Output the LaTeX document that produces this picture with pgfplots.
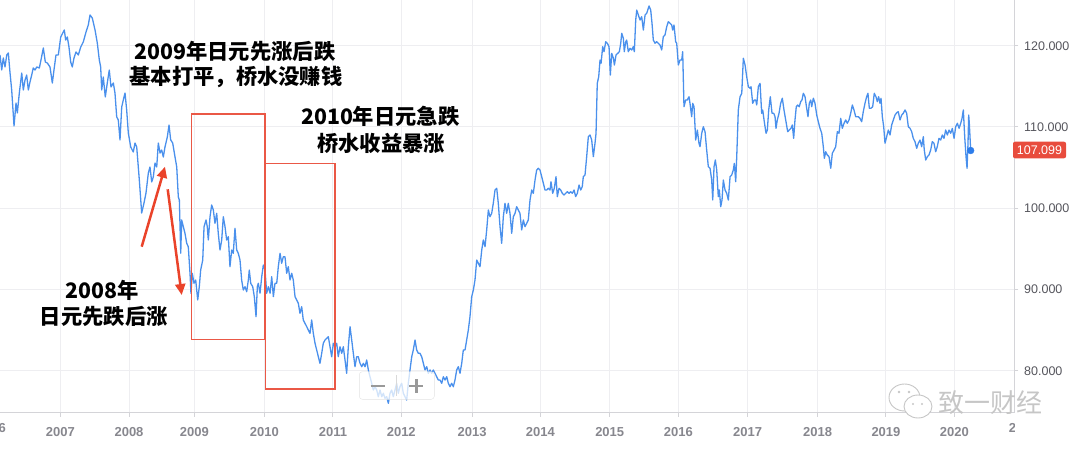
\documentclass[border=0pt]{standalone}
\usepackage{pgfplots}
\usepackage{pgfplotstable}
\pgfplotsset{compat=1.18}
\usepackage{fontspec}
\setmainfont{Liberation Sans}
\newfontfamily\cjk{Noto Sans CJK SC}
\usetikzlibrary{arrows.meta}
\definecolor{lineblue}{RGB}{74,144,236}
\definecolor{dotblue}{RGB}{45,125,235}
\definecolor{boxred}{RGB}{234,88,70}
\definecolor{arrowred}{RGB}{234,67,42}
\definecolor{pricered}{RGB}{232,76,61}
\definecolor{gridc}{RGB}{238,238,241}
\definecolor{axisc}{RGB}{212,212,216}
\definecolor{ylab}{RGB}{85,85,92}
\definecolor{xlab}{RGB}{135,135,142}

\pgfplotstableread{
X V
2006.123 118.86
2006.148 117.01
2006.171 118.49
2006.196 117.38
2006.221 118.86
2006.244 119.10
2006.269 116.64
2006.293 114.55
2006.327 110.12
2006.356 112.95
2006.375 111.72
2006.404 114.18
2006.439 116.64
2006.462 114.55
2006.487 115.78
2006.511 116.39
2006.535 114.55
2006.559 115.53
2006.584 116.39
2006.607 117.26
2006.632 117.01
2006.657 117.38
2006.695 117.26
2006.719 118.24
2006.753 119.72
2006.782 117.99
2006.811 117.87
2006.850 117.38
2006.884 115.41
2006.908 117.01
2006.937 118.86
2006.971 118.86
2007.006 121.07
2007.035 121.56
2007.058 121.93
2007.078 120.70
2007.102 121.07
2007.126 119.84
2007.151 117.99
2007.174 117.38
2007.199 118.49
2007.228 119.23
2007.262 118.86
2007.297 119.84
2007.334 120.46
2007.374 121.69
2007.407 122.55
2007.432 123.78
2007.465 123.41
2007.505 121.93
2007.538 120.33
2007.567 118.24
2007.587 117.38
2007.602 114.55
2007.625 116.15
2007.654 113.69
2007.683 115.41
2007.712 117.01
2007.737 114.92
2007.771 115.41
2007.795 114.18
2007.820 111.23
2007.843 110.86
2007.868 108.41
2007.893 112.46
2007.916 113.32
2007.941 114.18
2007.965 112.09
2007.989 109.25
2008.024 107.53
2008.061 106.92
2008.086 108.02
2008.111 107.53
2008.149 103.47
2008.183 99.41
2008.217 100.64
2008.246 101.87
2008.280 104.33
2008.304 105.07
2008.329 103.23
2008.352 103.84
2008.377 105.56
2008.402 105.07
2008.425 108.02
2008.450 106.79
2008.474 107.16
2008.498 106.30
2008.522 107.53
2008.556 108.76
2008.581 110.24
2008.605 108.41
2008.634 108.02
2008.668 106.30
2008.693 105.07
2008.716 101.38
2008.731 101.01
2008.751 94.45
2008.765 98.55
2008.789 97.72
2008.813 96.91
2008.838 95.68
2008.861 95.26
2008.886 91.99
2008.900 89.52
2008.919 91.99
2008.944 90.76
2008.969 91.16
2008.998 88.70
2009.021 90.34
2009.041 92.39
2009.071 93.62
2009.090 97.72
2009.119 98.55
2009.137 97.72
2009.152 96.09
2009.177 98.95
2009.201 100.39
2009.225 99.78
2009.249 98.14
2009.274 99.37
2009.297 96.91
2009.322 94.85
2009.347 96.09
2009.370 98.95
2009.395 97.72
2009.419 96.09
2009.443 96.49
2009.467 92.80
2009.492 94.85
2009.515 94.45
2009.540 97.53
2009.565 94.85
2009.588 94.45
2009.613 93.62
2009.637 91.16
2009.661 89.93
2009.686 90.34
2009.710 89.72
2009.734 91.16
2009.748 92.39
2009.769 90.75
2009.798 90.34
2009.821 89.11
2009.846 86.65
2009.865 90.34
2009.879 90.76
2009.904 89.53
2009.929 91.57
2009.952 93.01
2009.977 92.39
2010.001 89.53
2010.025 90.34
2010.050 89.53
2010.074 91.57
2010.098 89.11
2010.122 90.76
2010.147 90.76
2010.170 92.80
2010.195 94.45
2010.219 93.22
2010.243 94.03
2010.267 94.03
2010.292 91.99
2010.315 92.80
2010.340 91.16
2010.365 91.99
2010.388 91.16
2010.413 89.11
2010.437 88.70
2010.461 88.29
2010.485 87.06
2010.510 87.88
2010.533 86.24
2010.558 85.83
2010.583 85.42
2010.606 85.01
2010.631 84.60
2010.655 86.24
2010.679 84.60
2010.704 83.37
2010.728 82.55
2010.752 81.72
2010.776 80.91
2010.801 82.14
2010.824 83.37
2010.849 83.78
2010.897 84.18
2010.922 82.95
2010.946 81.72
2010.970 83.37
2010.994 82.95
2011.019 83.37
2011.042 81.72
2011.067 82.95
2011.092 82.14
2011.115 82.95
2011.140 81.32
2011.164 79.68
2011.188 82.95
2011.213 85.42
2011.237 83.78
2011.261 82.14
2011.285 80.49
2011.310 81.72
2011.333 81.72
2011.358 80.91
2011.383 80.49
2011.406 80.91
2011.431 80.49
2011.455 81.32
2011.479 80.09
2011.503 79.26
2011.528 78.45
2011.552 77.62
2011.576 78.03
2011.601 77.62
2011.624 76.80
2011.649 77.62
2011.674 76.80
2011.697 77.22
2011.721 76.60
2011.746 76.80
2011.770 75.99
2011.794 77.22
2011.819 77.62
2011.842 76.80
2011.867 77.62
2011.891 78.45
2011.915 77.22
2011.939 78.03
2011.964 78.45
2011.988 77.22
2012.012 76.80
2012.037 76.39
2012.060 78.45
2012.085 80.09
2012.110 81.72
2012.133 82.55
2012.158 83.78
2012.182 82.55
2012.206 82.14
2012.230 82.14
2012.255 81.72
2012.279 80.91
2012.303 80.09
2012.328 80.49
2012.351 79.68
2012.376 80.09
2012.400 79.68
2012.424 80.09
2012.449 79.68
2012.473 79.26
2012.497 78.85
2012.521 78.85
2012.546 78.45
2012.570 79.26
2012.594 78.85
2012.619 79.26
2012.642 78.45
2012.667 78.03
2012.691 78.45
2012.715 78.03
2012.739 78.85
2012.764 80.09
2012.788 80.49
2012.812 79.68
2012.837 80.91
2012.860 82.55
2012.885 82.55
2012.909 83.78
2012.933 85.01
2012.957 86.65
2012.982 89.11
2013.006 89.93
2013.030 91.16
2013.055 93.62
2013.078 93.22
2013.103 92.80
2013.128 94.85
2013.151 96.09
2013.176 95.26
2013.200 97.32
2013.224 99.78
2013.248 98.95
2013.273 99.37
2013.296 100.60
2013.321 102.24
2013.346 102.45
2013.369 100.60
2013.394 97.72
2013.418 95.68
2013.442 98.95
2013.466 100.60
2013.491 99.37
2013.514 100.60
2013.539 99.37
2013.564 96.91
2013.587 98.95
2013.612 99.37
2013.636 100.18
2013.660 99.78
2013.684 99.37
2013.709 97.32
2013.733 98.55
2013.757 97.72
2013.782 98.14
2013.805 98.55
2013.830 101.01
2013.855 102.24
2013.878 101.83
2013.903 103.47
2013.927 104.70
2013.951 104.91
2013.975 104.70
2014.000 103.88
2014.024 103.07
2014.048 102.24
2014.073 102.24
2014.096 102.45
2014.121 102.24
2014.135 103.26
2014.160 101.83
2014.183 102.45
2014.208 103.88
2014.227 101.42
2014.252 102.45
2014.276 102.24
2014.300 101.83
2014.324 101.62
2014.349 101.83
2014.372 102.03
2014.397 101.83
2014.422 102.03
2014.445 101.83
2014.470 102.24
2014.494 101.42
2014.518 101.83
2014.543 102.86
2014.567 102.24
2014.590 102.65
2014.605 103.88
2014.630 104.09
2014.654 106.34
2014.678 108.80
2014.703 109.01
2014.727 108.39
2014.751 106.34
2014.775 107.99
2014.790 109.22
2014.808 115.37
2014.829 116.18
2014.848 118.24
2014.863 117.83
2014.887 119.88
2014.906 119.26
2014.931 120.49
2014.954 120.30
2014.979 119.88
2014.998 116.39
2015.018 119.06
2015.043 118.45
2015.057 117.62
2015.081 118.86
2015.106 119.06
2015.129 119.26
2015.149 120.29
2015.164 121.53
2015.187 120.91
2015.201 119.26
2015.222 120.49
2015.236 120.70
2015.259 119.26
2015.284 119.68
2015.309 119.47
2015.332 119.88
2015.347 119.26
2015.367 123.16
2015.382 124.39
2015.405 123.78
2015.430 123.16
2015.454 123.57
2015.478 121.93
2015.503 123.78
2015.527 123.99
2015.561 124.89
2015.585 124.39
2015.604 122.76
2015.623 120.70
2015.648 120.30
2015.672 120.49
2015.696 120.30
2015.720 120.09
2015.745 119.47
2015.768 121.11
2015.793 121.32
2015.818 122.34
2015.841 122.95
2015.866 122.76
2015.890 122.55
2015.905 121.93
2015.924 122.55
2015.948 120.49
2015.963 120.30
2015.987 117.63
2016.011 118.24
2016.036 118.24
2016.050 119.26
2016.069 112.49
2016.094 113.32
2016.117 113.32
2016.142 113.72
2016.156 112.91
2016.181 111.26
2016.196 112.91
2016.215 112.49
2016.239 108.39
2016.263 109.62
2016.287 107.99
2016.302 107.57
2016.327 109.22
2016.350 110.03
2016.375 109.42
2016.399 107.16
2016.423 105.11
2016.448 104.91
2016.472 103.47
2016.487 101.01
2016.506 105.11
2016.525 105.93
2016.545 104.70
2016.568 101.42
2016.583 102.24
2016.603 100.18
2016.622 101.01
2016.641 103.47
2016.666 102.24
2016.690 101.83
2016.714 101.01
2016.739 103.88
2016.763 104.09
2016.786 104.70
2016.801 105.52
2016.821 103.26
2016.836 106.34
2016.859 112.09
2016.884 113.72
2016.909 114.14
2016.932 118.45
2016.957 117.62
2016.981 116.18
2017.005 114.95
2017.029 114.76
2017.044 114.95
2017.068 112.91
2017.092 113.32
2017.112 113.32
2017.127 112.70
2017.150 114.95
2017.175 115.37
2017.199 111.68
2017.214 112.09
2017.233 110.86
2017.262 109.22
2017.281 109.62
2017.301 112.09
2017.324 113.72
2017.349 111.68
2017.374 111.68
2017.393 111.26
2017.407 109.83
2017.426 110.86
2017.451 111.68
2017.475 112.91
2017.499 113.53
2017.523 112.09
2017.548 110.86
2017.577 109.42
2017.600 109.62
2017.625 109.83
2017.644 110.24
2017.664 108.60
2017.683 110.86
2017.702 112.49
2017.722 112.70
2017.745 112.49
2017.766 113.11
2017.785 113.32
2017.804 114.14
2017.829 113.72
2017.853 112.30
2017.872 111.26
2017.891 112.91
2017.912 113.32
2017.926 112.49
2017.950 113.53
2017.974 112.91
2017.999 111.47
2018.022 110.65
2018.047 109.83
2018.072 109.22
2018.095 107.57
2018.110 106.14
2018.130 106.95
2018.153 106.55
2018.178 106.34
2018.203 104.91
2018.226 106.76
2018.251 107.16
2018.275 107.57
2018.299 109.42
2018.323 109.22
2018.348 111.06
2018.371 109.83
2018.396 110.45
2018.421 110.86
2018.444 110.45
2018.469 110.86
2018.493 111.68
2018.517 112.70
2018.541 112.09
2018.566 111.26
2018.604 111.26
2018.628 111.06
2018.653 110.65
2018.676 111.88
2018.701 112.91
2018.725 113.72
2018.744 114.14
2018.764 112.30
2018.788 112.30
2018.813 112.49
2018.836 114.14
2018.861 113.72
2018.880 113.11
2018.900 113.72
2018.919 112.91
2018.934 113.53
2018.953 111.26
2018.973 110.03
2018.992 107.99
2019.016 108.80
2019.040 109.62
2019.065 109.01
2019.089 110.24
2019.113 110.86
2019.138 111.47
2019.162 111.75
2019.185 111.88
2019.210 110.86
2019.235 111.47
2019.258 111.68
2019.283 112.09
2019.307 111.68
2019.331 110.03
2019.356 109.83
2019.380 109.42
2019.403 108.60
2019.428 108.19
2019.453 107.37
2019.476 107.99
2019.501 108.39
2019.525 107.57
2019.549 108.80
2019.563 107.16
2019.584 105.93
2019.607 106.34
2019.632 106.55
2019.656 107.16
2019.680 108.19
2019.704 107.99
2019.729 106.95
2019.752 107.57
2019.777 108.60
2019.802 108.39
2019.825 109.01
2019.850 108.60
2019.874 109.62
2019.898 109.01
2019.923 109.62
2019.947 109.22
2019.971 109.83
2019.996 108.60
2020.020 110.03
2020.044 110.45
2020.069 109.83
2020.093 110.45
2020.112 111.06
2020.131 112.09
2020.151 108.80
2020.170 106.34
2020.185 104.91
2020.199 107.99
2020.209 111.47
2020.218 110.45
2020.238 107.10
}\usdjpy

\begin{document}
\begin{tikzpicture}
\begin{axis}[
  at={(0pt,38.3pt)}, anchor=south west,
  scale only axis, width=1014.3pt, height=412.7pt,
  xmin=2006.123, xmax=2020.872, ymin=74.83, ymax=125.625,
  axis x line*=bottom, axis y line*=right,
  axis line style={draw=axisc, line width=1.3pt},
  xtick={2007.000,2007.999,2008.948,2009.966,2010.965,2011.958,2012.987,2013.980,2014.989,2015.986,2016.995,2018.013,2019.006,2020.000},
  xticklabels={2007,2008,2009,2010,2011,2012,2013,2014,2015,2016,2017,2018,2019,2020},
  ytick={80,90,100,110,120},
  yticklabels={80.000,90.000,100.000,110.000,120.000},
  xmajorgrids, ymajorgrids,
  major grid style={draw=gridc, line width=1pt},
  tick align=outside, major tick length=4pt,
  tick style={draw=axisc, line width=1pt},
  xticklabel style={font=\fontsize{13}{13}\selectfont\bfseries, text=xlab, anchor=center, inner sep=0pt, yshift=-15.3pt},
  yticklabel style={font=\fontsize{12.5}{12.5}\selectfont, text=ylab, anchor=west, inner sep=0pt, xshift=5.7pt},
]
\addplot[lineblue, line width=1.3pt, line join=round] table[x=X,y=V]{\usdjpy};
\addplot[only marks, mark=*, mark size=3.4pt, dotblue] coordinates {(2020.238,107.10)};
\end{axis}
\begin{scope}[yshift=451pt, x=1pt, y=-1pt]
  % edge year labels
  \node[font=\fontsize{13}{13}\selectfont\bfseries, text=xlab, inner sep=0pt] at (-8.5,428) {2006};
  \begin{scope}
    \clip (1000,415) rectangle (1014.3,445);
    \node[font=\fontsize{13}{13}\selectfont\bfseries, text=xlab, inner sep=0pt] at (1023.3,428) {2021};
  \end{scope}
  % red boxes
  \draw[boxred, line width=1.5pt] (191.7,114) rectangle (265,339.3);
  \draw[boxred, line width=1.5pt] (265.7,163.3) rectangle (335,389);
  % arrows
  \draw[arrowred, line width=2.5pt, -{Triangle[length=11pt,width=10pt]}] (141.7,246.7) -- (165,166.7);
  \draw[arrowred, line width=2.5pt, -{Triangle[length=11pt,width=10pt]}] (167.7,189.3) -- (181.7,295);
  % annotations
  \node[font=\cjk\bfseries\fontsize{21.3}{24}\selectfont, inner sep=0pt] at (235,51.7) {2009年日元先涨后跌};
  \node[font=\cjk\bfseries\fontsize{21.3}{24}\selectfont, inner sep=0pt] at (236,76.7) {基本打平，桥水没赚钱};
  \node[font=\cjk\bfseries\fontsize{21.3}{24}\selectfont, inner sep=0pt] at (380.3,116.7) {2010年日元急跌};
  \node[font=\cjk\bfseries\fontsize{21.3}{24}\selectfont, inner sep=0pt] at (381,143.3) {桥水收益暴涨};
  \node[font=\cjk\bfseries\fontsize{21.3}{24}\selectfont, inner sep=0pt] at (102.5,290) {2008年};
  \node[font=\cjk\bfseries\fontsize{21.3}{24}\selectfont, inner sep=0pt] at (103.7,316.7) {日元先跌后涨};
  % zoom control
  \filldraw[fill=white, fill opacity=0.75, draw=gray!22, rounded corners=3pt] (359.3,371.7) rectangle (434.3,399.3);
  \draw[gray!30, line width=0.8pt] (396.7,375) -- (396.7,396);
  \draw[gray!80, line width=2.6pt] (370.7,386) -- (385,386);
  \draw[gray!80, line width=2.6pt] (409.3,386) -- (423.3,386);
  \draw[gray!80, line width=2.6pt] (416.3,379.3) -- (416.3,392.7);
  % price label
  \fill[pricered, rounded corners=2pt] (1013,141.7) rectangle (1066,158.3);
  \node[text=white, font=\fontsize{12.5}{12.5}\selectfont, inner sep=0pt] at (1039.5,150) {107.099};
  % watermark
  \filldraw[fill=white, draw=gray!45, line width=0.9pt] (904.5,397.5) ellipse (15.5 and 13.5);
  \filldraw[fill=white, draw=gray!45, line width=0.9pt] (918,406.5) ellipse (14 and 11.5);
  \fill[gray!45] (899,392) circle (1.3) (909,392) circle (1.3) (913,404) circle (1.1) (922,404) circle (1.1);
  \node[font=\cjk\fontsize{26}{28}\selectfont, text=gray!45, inner sep=0pt] at (990.3,402.7) {致一财经};
  \pgfresetboundingbox
  \path[use as bounding box] (0,0) rectangle (1080,451);
\end{scope}
\end{tikzpicture}
\end{document}
